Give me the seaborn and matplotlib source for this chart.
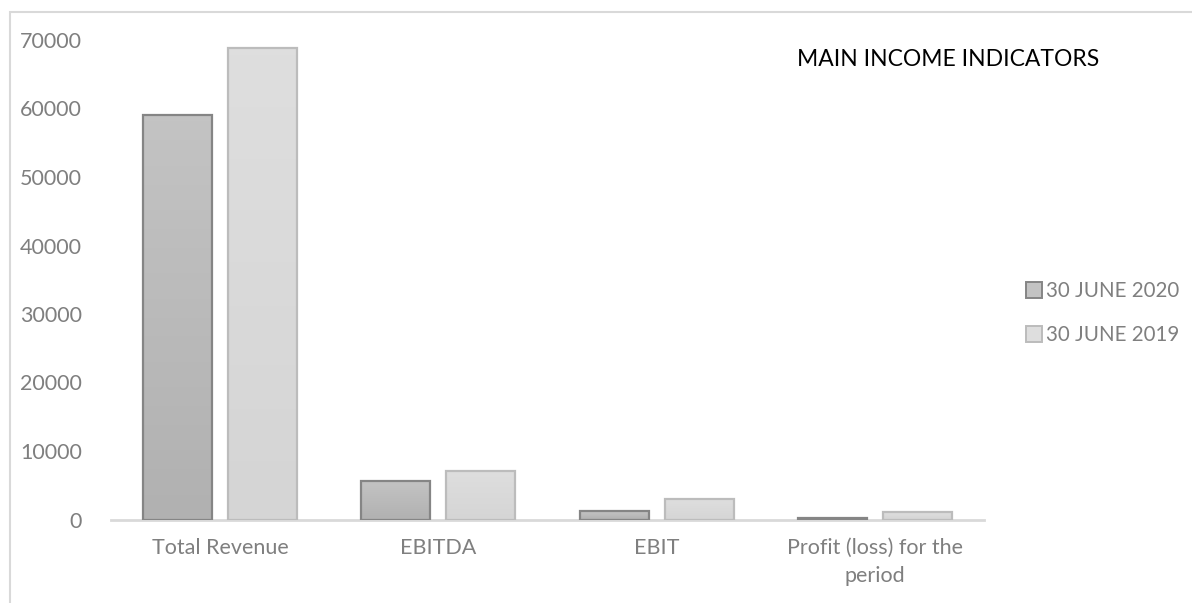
import numpy as np
import pandas as pd
import seaborn as sns
import matplotlib.pyplot as plt
from matplotlib.colors import LinearSegmentedColormap
from matplotlib.patches import Rectangle, Patch

# Indicator values (thousands)
categories = ["Total Revenue", "EBITDA", "EBIT", "Profit (loss) for the\nperiod"]
periods = ["30 JUNE 2020", "30 JUNE 2019"]
june_2020 = [59050, 5600, 1250, 150]
june_2019 = [68830, 7100, 2950, 1100]
y_ticks = [0, 10000, 20000, 30000, 40000, 50000, 60000, 70000]

df = pd.DataFrame({
    "indicator": categories * 2,
    "period": [periods[0]] * len(categories) + [periods[1]] * len(categories),
    "value": june_2020 + june_2019,
})

sns.set_theme(style="white")
plt.rcParams["font.family"] = ["Lato", "DejaVu Sans"]

fill_top = {periods[0]: "#c3c3c3", periods[1]: "#dedede"}
fill_bottom = {periods[0]: "#b1b1b1", periods[1]: "#d5d5d5"}
edges = {periods[0]: "#858585", periods[1]: "#bcbcbc"}
palette = {p: fill_top[p] for p in periods}

fig = plt.figure(figsize=(11.92, 6.03), dpi=100)
ax = fig.add_axes([111 / 1192, 1 - 519.5 / 603, (984 - 111) / 1192, (519.5 - 40) / 603])

sns.barplot(data=df, x="indicator", y="value", hue="period", hue_order=periods,
            order=categories, palette=palette, width=0.78, gap=0.19,
            linewidth=1.6, ax=ax, legend=False, zorder=3)

# Soft vertical shading inside each bar, with a grey outline
for container, p in zip(ax.containers, periods):
    cmap = LinearSegmentedColormap.from_list(p, [fill_bottom[p], fill_top[p]])
    for bar in container:
        bar.set_edgecolor(edges[p])
        x0, w = bar.get_x(), bar.get_width()
        h = bar.get_height()
        grad = np.linspace(0, 1, 64).reshape(-1, 1)
        im = ax.imshow(grad, cmap=cmap, aspect="auto", origin="lower",
                       extent=[x0, x0 + w, 0, h], zorder=3.5)
        im.set_clip_path(bar)
        bar.set_zorder(4)
        bar.set_facecolor("none")

ax.set_xlim(-0.5, len(categories) - 0.5)
ax.set_ylim(0, 70000)
ax.set_yticks(y_ticks)
ax.set_yticklabels([str(t) for t in y_ticks])
ax.set_xlabel("")
ax.set_ylabel("")
for side in ["top", "right", "left"]:
    ax.spines[side].set_visible(False)
ax.spines["bottom"].set_color("#d9d9d9")
ax.spines["bottom"].set_linewidth(2)
ax.tick_params(axis="both", length=0, labelsize=15.5, labelcolor="#7f7f7f")
ax.tick_params(axis="y", pad=21)
ax.tick_params(axis="x", pad=13)
for lbl in ax.get_xticklabels():
    lbl.set_linespacing(1.55)
ax.grid(False)

fig.text(948 / 1192, 1 - 60 / 603, "MAIN INCOME INDICATORS", ha="center", va="center",
         fontsize=16.5, color="#000000")

handles = [Patch(facecolor=fill_top[p], edgecolor=edges[p], linewidth=1.4) for p in periods]
fig.legend(handles, periods, loc="center left", bbox_to_anchor=(1007 / 1192, 1 - 313 / 603),
           frameon=False, fontsize=14.8, labelcolor="#7f7f7f", handlelength=0.8,
           handleheight=0.8, handletextpad=0.2, labelspacing=1.15)

# Light chart-area frame
fig.patches.append(Rectangle((10 / 1192, -0.05), 1.2, 1 - 12 / 603 + 0.05,
                             transform=fig.transFigure, fill=False,
                             edgecolor="#d9d9d9", linewidth=1.5))

fig.savefig("out.png", dpi=100, facecolor="white")
